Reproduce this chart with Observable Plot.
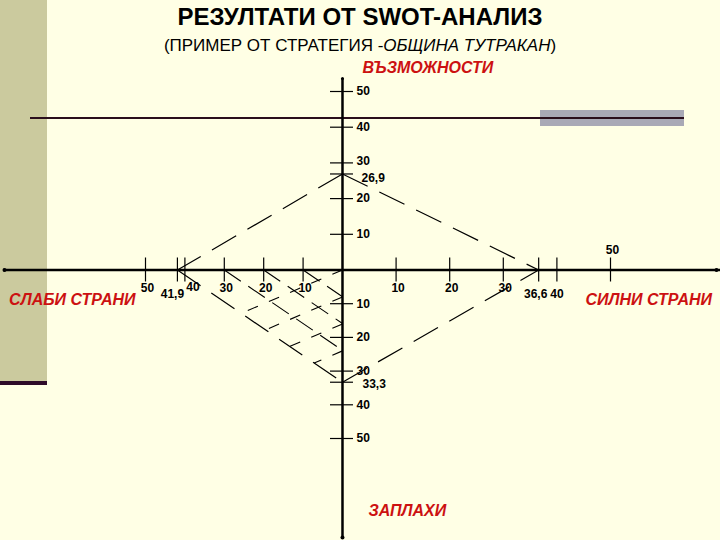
<!DOCTYPE html>
<html>
<head>
<meta charset="utf-8">
<script src="https://cdn.jsdelivr.net/npm/d3@7"></script>
<script src="https://cdn.jsdelivr.net/npm/@observablehq/plot@0.6"></script>
<style>
  html, body { margin: 0; padding: 0; background: #FFFFE5; }
  #page { position: relative; width: 720px; height: 540px; overflow: hidden; background: #FFFFE5;
          font-family: "Liberation Sans", Arial, sans-serif; }
  #stripe { position: absolute; left: 0; top: 0; width: 47px; height: 381px; background: #CBCA9E;
            border-bottom: 4px solid #2E0B28; }
  #graybar { position: absolute; left: 540px; top: 110px; width: 144px; height: 16px; background: #A9A9B6; }
  #topline { position: absolute; left: 30px; top: 117px; width: 654px; height: 2px; background: #2A0E1C; }
  #title { position: absolute; left: 0; top: 3px; width: 720px; text-align: center;
           font-weight: bold; font-size: 24px; color: #000; }
  #subtitle { position: absolute; left: 0; top: 36px; width: 720px; text-align: center;
              font-size: 17px; color: #000; }
  #chart { position: absolute; left: 0; top: 0; }
</style>
</head>
<body>
<div id="page">
  <div id="stripe"></div>
  <div id="graybar"></div>
  <div id="topline"></div>
  <div id="chart"></div>
  <div id="title">РЕЗУЛТАТИ ОТ SWOT-АНАЛИЗ</div>
  <div id="subtitle">(ПРИМЕР ОТ СТРАТЕГИЯ -<i>ОБЩИНА ТУТРАКАН</i>)</div>
</div>
<script>
// ---- data ----
const quadrantNames = ["СИЛНИ СТРАНИ", "СЛАБИ СТРАНИ", "ВЪЗМОЖНОСТИ", "ЗАПЛАХИ"];
const strengths = 36.6;      // S, right
const weaknesses = 41.9;     // W, left
const opportunities = 26.9;  // O, up
const threats = 33.3;        // T, down
const tickValues = [10, 20, 30, 40, 50];
const hatchStepsA = [10, 20, 30];     // hatch lines starting at these W-axis values
const hatchStepsB = [0, 8, 16, 24];   // crossing hatch lines starting at these T-axis values

// ---- derived ----
const fmt = v => String(Math.abs(v)).replace(".", ",");
const xTicks = [...tickValues.map(v => -v), -weaknesses, ...tickValues, strengths];
const yTicks = [...tickValues, opportunities, ...tickValues.map(v => -v), -threats];

const O = {x: 0, y: opportunities};
const S = {x: strengths, y: 0};
const T = {x: 0, y: -threats};
const W = {x: -weaknesses, y: 0};
const edges = [[O, W], [O, S], [W, T], [T, S]].map(([a, b]) => ({x1: a.x, y1: a.y, x2: b.x, y2: b.y}));

// hatch in the W–T quadrant
const slopeWT = threats / weaknesses;
const hatchA = hatchStepsA.map(v => ({x1: -v, y1: 0, x2: 0, y2: -v * slopeWT}));
const crossSlope = 0.5;
const hatchB = hatchStepsB.map(v => {
  const u = (threats - v) / (crossSlope + slopeWT);
  return {x1: 0, y1: -v, x2: -u, y2: -v - crossSlope * u};
});

const red = "#CC1111";
// the hand-drawn axes are stretched differently on each side of the origin
const leftK = 0.735, downK = 0.944;
const xT = v => v < 0 ? v * leftK : v;
const yT = v => v < 0 ? v * downK : v;

const labelStyle = {fontSize: 12, fontWeight: "bold", fill: "black"};
function xLabels(filter, dx, dy) {
  return Plot.text(xTicks.filter(filter), {x: d => d, y: 0, text: fmt, dx, dy, ...labelStyle});
}
function yLabels(filter, dx, dy) {
  return Plot.text(yTicks.filter(filter), {x: 0, y: d => d, text: fmt, textAnchor: "start", dx, dy, ...labelStyle});
}
const special = [-weaknesses, -40, strengths, 40, 50];
const nameStyle = {text: d => d, fill: red, fontSize: 16, fontWeight: "bold", fontStyle: "italic"};

const chart = Plot.plot({
  width: 720,
  height: 540,
  margin: 0,
  x: {transform: xT, domain: [xT(-50), 50], range: [145, 610], axis: null},
  y: {transform: yT, domain: [yT(-50), 50], range: [438, 91], axis: null},
  style: {background: "transparent", fontFamily: "Liberation Sans, Arial, sans-serif", overflow: "visible"},
  marks: [
    // hatch
    Plot.link(hatchA, {x1: "x1", y1: "y1", x2: "x2", y2: "y2",
      stroke: "black", strokeWidth: 1.1, strokeDasharray: "20,9"}),
    Plot.link(hatchB, {x1: "x1", y1: "y1", x2: "x2", y2: "y2",
      stroke: "black", strokeWidth: 1.1, strokeDasharray: "11,12"}),
    // SWOT polygon edges
    Plot.link(edges, {x1: "x1", y1: "y1", x2: "x2", y2: "y2",
      stroke: "black", strokeWidth: 1.2, strokeDasharray: "28,13"}),
    // axes
    Plot.ruleY([0], {insetLeft: 3, strokeWidth: 2.5, stroke: "black"}),
    Plot.ruleX([0], {insetTop: 78, insetBottom: 3, strokeWidth: 2.5, stroke: "black"}),
    Plot.dot([0], {y: d => d, frameAnchor: "left", dx: 4, r: 2, fill: "black"}),
    Plot.dot([0], {y: d => d, frameAnchor: "right", dx: -4, r: 2, fill: "black"}),
    Plot.dot([0], {x: d => d, frameAnchor: "top", dy: 78, r: 1.5, fill: "black"}),
    Plot.dot([0], {x: d => d, frameAnchor: "bottom", dy: -3, r: 2, fill: "black"}),
    // ticks
    Plot.ruleX(xTicks, {x: d => d, y1: 0, y2: 0, insetTop: -12, insetBottom: -12, stroke: "black", strokeWidth: 1.2}),
    Plot.ruleY(yTicks, {y: d => d, x1: 0, x2: 0, insetLeft: -12, insetRight: -11, stroke: "black", strokeWidth: 1.2}),
    // tick labels
    xLabels(d => !special.includes(d), 2, 18),
    xLabels(d => d === -40, 8, 17),
    xLabels(d => d === -weaknesses, -5, 24),
    xLabels(d => d === strengths, -3, 24),
    xLabels(d => d === 40, 0, 24),
    xLabels(d => d === 50, 2, -20),
    yLabels(d => d !== opportunities && d !== -threats && d !== 30, 14, 0),
    yLabels(d => d === 30, 14, -2),
    yLabels(d => d === opportunities, 19, 4),
    yLabels(d => d === -threats, 20, 2)
    ,
    // quadrant names
    Plot.text([quadrantNames[0]], {x: 50, y: 0, textAnchor: "start", dx: -25, dy: 30, ...nameStyle}),
    Plot.text([quadrantNames[1]], {x: -50, y: 0, textAnchor: "end", dx: -10, dy: 30, ...nameStyle}),
    Plot.text([quadrantNames[2]], {x: 0, y: 50, textAnchor: "start", dx: 20, dy: -24, ...nameStyle}),
    Plot.text([quadrantNames[3]], {x: 0, y: -50, textAnchor: "start", dx: 26, dy: 72, ...nameStyle})
  ]
});
document.getElementById("chart").appendChild(chart);
</script>
</body>
</html>
